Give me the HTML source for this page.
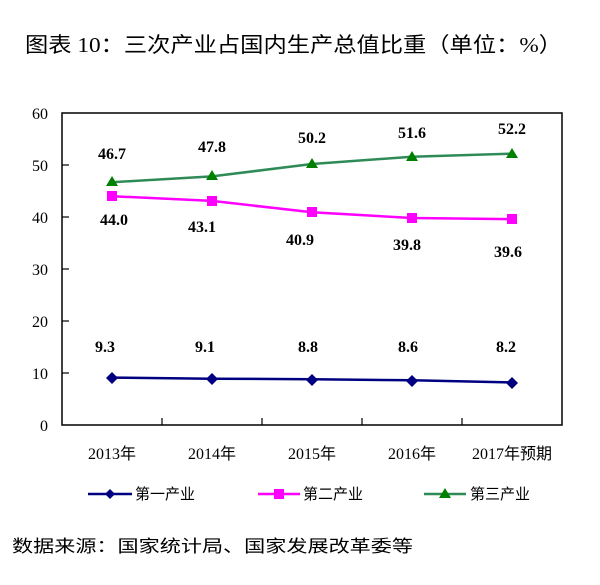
<!DOCTYPE html>
<html><head><meta charset="utf-8"><style>html,body{margin:0;padding:0;background:#fff}</style></head>
<body>
<svg width="600" height="580" xmlns="http://www.w3.org/2000/svg">
<text x="25" y="52" font-family="'Liberation Serif','Noto Sans CJK SC',sans-serif" font-size="21" textLength="537" lengthAdjust="spacingAndGlyphs" fill="#000">图表 10：三次产业占国内生产总值比重（单位：%）</text>
<rect x="62" y="113" width="500" height="312" fill="none" stroke="#000" stroke-width="1.5"/>
<g stroke="#000" stroke-width="1.2">
<line x1="62" x2="69" y1="165" y2="165"/><line x1="62" x2="69" y1="217" y2="217"/><line x1="62" x2="69" y1="269" y2="269"/><line x1="62" x2="69" y1="321" y2="321"/><line x1="62" x2="69" y1="373" y2="373"/>
<line x1="162" x2="162" y1="425" y2="418"/><line x1="262" x2="262" y1="425" y2="418"/><line x1="362" x2="362" y1="425" y2="418"/><line x1="462" x2="462" y1="425" y2="418"/>
</g>
<g font-family="'Liberation Serif',serif" font-size="16" text-anchor="end" fill="#000">
<text x="48" y="119">60</text><text x="48" y="171">50</text><text x="48" y="223">40</text><text x="48" y="275">30</text><text x="48" y="327">20</text><text x="48" y="379">10</text><text x="48" y="431">0</text>
</g>
<g font-family="'Liberation Serif','Noto Sans CJK SC',serif" font-size="16" text-anchor="middle" fill="#000">
<text x="112" y="459">2013年</text><text x="212" y="459">2014年</text><text x="312" y="459">2015年</text><text x="412" y="459">2016年</text><text x="512" y="459">2017年预期</text>
</g>
<polyline points="112,182.2 212,176.4 312,164 412,156.7 512,153.6" fill="none" stroke="#2e8b57" stroke-width="2.5"/>
<polyline points="112,196.2 212,200.9 312,212.3 412,218 512,219.1" fill="none" stroke="#ff00ff" stroke-width="2.5"/>
<polyline points="112,377.6 212,378.7 312,379.2 412,380.3 512,382.4" fill="none" stroke="#000080" stroke-width="2.5"/>
<g fill="#008000">
<polygon points="112,176 106,186 118,186"/><polygon points="212,170 206,180 218,180"/><polygon points="312,158 306,168 318,168"/><polygon points="412,151 406,161 418,161"/><polygon points="512,148 506,158 518,158"/>
</g>
<g fill="#ff00ff">
<rect x="107" y="191" width="10" height="10"/><rect x="207" y="196" width="10" height="10"/><rect x="307" y="207" width="10" height="10"/><rect x="407" y="213" width="10" height="10"/><rect x="507" y="214" width="10" height="10"/>
</g>
<g fill="#000080">
<polygon points="112,372 118,378 112,384 106,378"/><polygon points="212,373 218,379 212,385 206,379"/><polygon points="312,374 318,380 312,386 306,380"/><polygon points="412,375 418,381 412,387 406,381"/><polygon points="512,377 518,383 512,389 506,383"/>
</g>
<g font-family="'Liberation Serif',serif" font-size="16" font-weight="bold" text-anchor="middle" fill="#000">
<text x="112" y="159">46.7</text><text x="212" y="152">47.8</text><text x="312" y="143">50.2</text><text x="412" y="138">51.6</text><text x="512" y="134">52.2</text>
<text x="114" y="225">44.0</text><text x="202" y="232">43.1</text><text x="300" y="245">40.9</text><text x="407" y="250">39.8</text><text x="508" y="257">39.6</text>
<text x="105" y="352">9.3</text><text x="205" y="352">9.1</text><text x="308" y="352">8.8</text><text x="408" y="352">8.6</text><text x="506" y="352">8.2</text>
</g>
<line x1="88" x2="132" y1="494" y2="494" stroke="#000080" stroke-width="2.5"/><polygon points="110,489 115,494 110,499 105,494" fill="#000080"/>
<line x1="258" x2="300" y1="494" y2="494" stroke="#ff00ff" stroke-width="2.5"/><rect x="274" y="489" width="10" height="10" fill="#ff00ff"/>
<line x1="424" x2="466" y1="494" y2="494" stroke="#2e8b57" stroke-width="2.5"/><polygon points="445,488 439,498 451,498" fill="#008000"/>
<g font-family="'Noto Sans CJK SC',sans-serif" font-size="15" fill="#000">
<text x="135" y="499">第一产业</text><text x="303" y="499">第二产业</text><text x="470" y="499">第三产业</text>
</g>
<text x="12" y="552" font-family="'Noto Sans CJK SC',sans-serif" font-size="17" textLength="401" lengthAdjust="spacingAndGlyphs" fill="#000">数据来源：国家统计局、国家发展改革委等</text>
</svg>
</body></html>
